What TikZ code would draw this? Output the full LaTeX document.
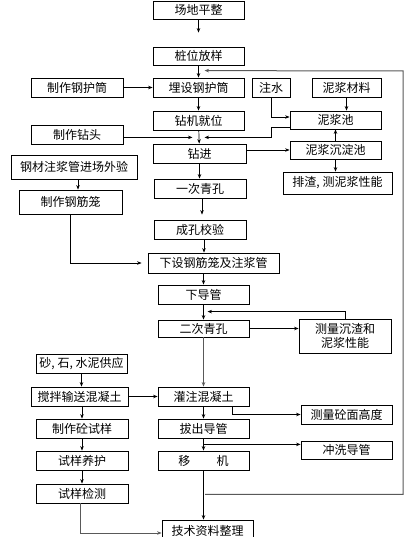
\documentclass[tikz,border=0pt]{standalone}
\usepackage{fontspec}
\newfontfamily\cjk{Noto Sans CJK SC}
\usetikzlibrary{arrows.meta,calc}
\tikzset{
 box/.style={draw, line width=0.8pt, inner sep=0pt, font=\cjk\fontsize{12}{14}\selectfont, align=center},
 arr/.style={line width=0.7pt, -{Stealth[length=4.5pt,width=3.5pt]}},
 ln/.style={line width=0.7pt},
 gl/.style={draw=black!65, line width=1pt},
}
\newcommand\bx[6]{\node[box, minimum width={(#4-#2)*1pt}, minimum height={(#5-#3)*1pt}] (#1) at ({(#2+#4)/2},{(#3+#5)/2}) {#6};}
\begin{document}
\begin{tikzpicture}[x=1pt,y=-1pt]
\useasboundingbox[fill=white] (0,0) rectangle (414,537);
\bx{n1}{153}{1}{244}{19}{场地平整}
\bx{n2}{153}{47}{244}{65}{桩位放样}
\bx{n3}{153}{78}{244}{97}{埋设钢护筒}
\bx{m1}{31}{78}{123}{97}{制作钢护筒}
\bx{w}{252}{78}{290}{97}{注水}
\bx{nl}{312}{78}{381}{97}{泥浆材料}
\bx{n4}{153}{111}{244}{130}{钻机就位}
\bx{np}{290}{111}{381}{129}{泥浆池}
\bx{m2}{31}{125}{123}{144}{制作钻头}
\bx{n5}{153}{144}{246}{163}{钻进}
\bx{cd}{290}{141}{381}{159}{泥浆沉淀池}
\bx{pz}{283}{172}{392}{194}{排渣, 测泥浆性能}
\bx{gc}{11}{155}{137}{179}{钢材注浆管进场外验}
\bx{gj}{19}{190}{122}{214}{制作钢筋笼}
\bx{n6}{154}{179}{246}{198}{一次青孔}
\bx{n7}{154}{220}{246}{239}{成孔校验}
\bx{n8}{148}{253}{279}{273}{下设钢筋笼及注浆管}
\bx{n9}{158}{285}{249}{304}{下导管}
\bx{n10}{158}{320}{249}{337}{二次青孔}
\bx{cl}{299}{319}{391}{353}{测量沉渣和\\泥浆性能}
\bx{ss}{36}{354}{127}{373}{砂, 石, 水泥供应}
\bx{jb}{31}{387}{128}{406}{搅拌输送混凝土}
\bx{n11}{158}{387}{249}{406}{灌注混凝土}
\bx{cm}{301}{405}{392}{424}{测量砼面高度}
\bx{n12}{158}{419}{249}{438}{拔出导管}
\bx{cx}{301}{441}{392}{459}{冲洗导管}
\bx{n13}{158}{451}{249}{470}{移\hspace{2.2em}机}
\bx{zs}{36}{419}{128}{438}{制作砼试样}
\bx{yh}{36}{451}{128}{470}{试样养护}
\bx{jc}{36}{484}{128}{503}{试样检测}
\bx{js}{162}{520}{253}{541}{技术资料整理}
% junctions
\coordinate (j1) at ($(n4.south)+(0,7)$);
\coordinate (k1) at ($(w.south)+(0,40)$);
\coordinate (j2) at ($(n10.north)+(0,-8)$);
\coordinate (j3) at ($(n12.south)+(0,6)$);
\coordinate (j4) at ($(n13.south)+(1.5,24)$);
\coordinate (j5) at ($(n3.north)+(0,-7)$);
\coordinate (rt) at (403,71);
% connectors
\draw[arr, shorten >=14pt] (n1) -- (n2);
\draw[arr] (n2) -- (n3);
\draw[arr] (n3) -- (n4);
\draw[arr] (m1) -- (n3);
\draw[arr] (w.south) |- ([yshift=3pt]np.west);
\draw[arr] (nl.south) -- (nl.south |- np.north);
\draw[arr, shorten >=6pt] ([yshift=2pt]np.south west) -| (k1) -- (j1);
\draw[arr, shorten >=6pt] (m2.east |- j1) -- (j1);
\draw[arr] (n4) -- (n5);
\draw[arr] (cd.north) -- (cd.north |- np.south);
\draw[arr] (n5.east |- cd.west) -- (cd.west);
\draw[arr] (cd.south) -- (cd.south |- pz.north);
\draw[arr] ([xshift=4pt]gc.south) -- ([xshift=4pt]gc.south |- gj.north);
\draw[arr] (n5.south) -- (n5.south |- n6.north);
\draw[arr, shorten >=5pt] ([xshift=2pt]n6.south) -- ([xshift=2pt]n7.north);
\draw[arr] ([xshift=4pt]n7.south) -- ([xshift=4pt]n7.south |- n8.north);
\draw[arr, shorten >=6pt] (gj.south) |- (n8.west);
\draw[arr] (n9.north |- n8.south) -- (n9.north);
\draw[arr] (n9) -- (n10);
\draw[arr, shorten >=4pt] (cl.north) |- (j2);
\draw[arr] (n10.east) -- (n10.east -| cl.west);
\draw[arr, draw=black!65, line width=1pt] (n10) -- (n11);
\draw[arr] (ss.south) -- (ss.south |- jb.north);
\draw[arr] (jb.east |- n11.west) -- (n11.west);
\draw[arr] ([xshift=-17pt]n11.south east) |- (cm.west);
\draw[arr] (n11) -- (n12);
\draw[arr] (n12) -- (n13);
\draw[arr] (j3) -- (j3 -| cx.west);
\draw[arr] (n13.south) -- (n13.south |- js.north);
\draw[arr, draw=black!65, line width=1pt, shorten >=6pt] (j4) -| (rt) -- (j5);
\draw[arr] (zs.north |- jb.south) -- (zs.north);
\draw[arr] (zs) -- (yh);
\draw[arr] (yh) -- (jc);
\draw[arr, draw=black!65, line width=1pt] ([xshift=-2pt]jc.south) |- ([yshift=-2.5pt]js.west);
\end{tikzpicture}
\end{document}
